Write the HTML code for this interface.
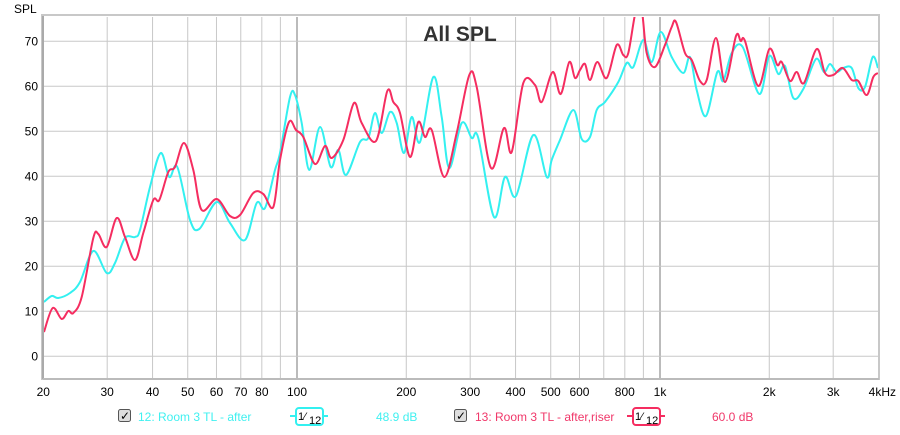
<!DOCTYPE html>
<html><head><meta charset="utf-8"><style>
body{margin:0;background:#fff;width:900px;height:430px;overflow:hidden;font-family:"Liberation Sans",sans-serif;}
svg text{font-family:"Liberation Sans",sans-serif;}
</style></head><body>
<svg id="s" width="900" height="430" xmlns="http://www.w3.org/2000/svg">
<defs><clipPath id="c"><rect x="44" y="17" width="834" height="361"/></clipPath></defs>
<rect x="44" y="17" width="834" height="361" fill="#fff"/>
<g id="grid"></g>
<rect x="42" y="15" width="837" height="364" fill="none" stroke="#c8c8c8" stroke-width="2"/>
<line x1="43" y1="16" x2="43" y2="379" stroke="#aaa" stroke-width="2"/>
<line x1="43" y1="379" x2="879" y2="379" stroke="#bbb" stroke-width="2"/>
<g clip-path="url(#c)">
<path id="cy" fill="none" stroke="#33f0f0" stroke-width="2"/>
<path id="rd" fill="none" stroke="#f52d60" stroke-width="2"/>
</g>
<text x="14" y="13" font-size="12">SPL</text>
<text x="460" y="41" font-size="21" font-weight="bold" text-anchor="middle" fill="#333">All SPL</text>
<g id="lab" font-size="12" fill="#000"></g>
<!-- legend -->
<rect x="118.5" y="409.5" width="12" height="12" fill="#ddd" stroke="#555" rx="2"/>
<text x="120" y="420" font-size="12">✓</text>
<text x="138" y="421" font-size="12" fill="#40f0f0">12: Room 3 TL - after</text>
<line x1="290" y1="416" x2="328" y2="416" stroke="#33f0f0" stroke-width="2"/>
<rect x="296" y="408" width="27" height="17" rx="3" fill="#fff" stroke="#33f0f0" stroke-width="2"/>
<text x="298" y="420" font-size="11">1⁄</text><text x="309" y="424" font-size="11">12</text>
<text x="376" y="421" font-size="12" fill="#40f0f0">48.9 dB</text>
<rect x="454.5" y="409.5" width="12" height="12" fill="#ddd" stroke="#555" rx="2"/>
<text x="456" y="420" font-size="12">✓</text>
<text x="475" y="421" font-size="12" fill="#f0386a">13: Room 3 TL - after,riser</text>
<line x1="627" y1="416" x2="665" y2="416" stroke="#f52d60" stroke-width="2"/>
<rect x="633" y="408" width="27" height="17" rx="3" fill="#fff" stroke="#f52d60" stroke-width="2"/>
<text x="635" y="420" font-size="11">1⁄</text><text x="646" y="424" font-size="11">12</text>
<text x="712" y="421" font-size="12" fill="#f0386a">60.0 dB</text>
</svg>
<script>
var NS="http://www.w3.org/2000/svg";
function X(f){return 44+363*Math.log10(f/20)/Math.log10(10)*1+ (363*Math.log10(20)-363*Math.log10(20));}
function fx(f){return 297+363*Math.log10(f/100);}
function Y(d){return 356.3-4.5*d;}
var g=document.getElementById('grid'),lab=document.getElementById('lab');
function el(t,a,p){var e=document.createElementNS(NS,t);for(var k in a)e.setAttribute(k,a[k]);p.appendChild(e);return e;}
var fs=[30,40,50,60,70,80,90,100,200,300,400,500,600,700,800,900,1000,2000,3000];
fs.forEach(function(f){var x=fx(f);el('line',{x1:x,y1:17,x2:x,y2:378,stroke:(f==100||f==1000)?'#777':'#c8c8c8','stroke-width':1},g);});
for(var d=0;d<=70;d+=10){var y=Y(d);el('line',{x1:44,y1:y,x2:878,y2:y,stroke:'#c8c8c8','stroke-width':1},g);
var t=el('text',{x:38,y:y+4,'text-anchor':'end'},lab);t.textContent=d;}
var xl=[[20,'20'],[30,'30'],[40,'40'],[50,'50'],[60,'60'],[70,'70'],[80,'80'],[100,'100'],[200,'200'],[300,'300'],[400,'400'],[500,'500'],[600,'600'],[800,'800'],[1000,'1k'],[2000,'2k'],[3000,'3k']];
xl.forEach(function(a){var t=el('text',{x:fx(a[0]),y:396,'text-anchor':'middle'},lab);t.textContent=a[1];});
var t=el('text',{x:896,y:396,'text-anchor':'end'},lab);t.textContent='4kHz';
function path(p){var s='M'+p[0][0]+','+p[0][1];for(var i=0;i<p.length-1;i++){var p0=p[i-1]||p[i],p1=p[i],p2=p[i+1],p3=p[i+2]||p2;
s+=' C'+(p1[0]+(p2[0]-p0[0])/6)+','+(p1[1]+(p2[1]-p0[1])/6)+' '+(p2[0]-(p3[0]-p1[0])/6)+','+(p2[1]-(p3[1]-p1[1])/6)+' '+p2[0]+','+p2[1];}return s;}
var red=[[44,332],[52.7,308],[61.7,319],[68.3,311],[73.3,313],[81.7,297],[93.3,238],[98.3,234],[106.7,247],[116.7,218],[125,237],[135,260],[143.3,233],[153.3,200],[159.3,200],[168.3,172],[175,167],[184,143],[193.3,170],[201.7,210],[216.7,199],[230,216],[240,215],[253.3,193],[263.3,194],[273.3,207],[280,160],[289,122],[296,130],[303.3,137],[315,164],[325,146],[331.7,158],[343.3,140],[354,103],[361.7,123],[376,141],[387.3,91],[393.3,102],[400,113],[410,157],[418.3,122],[425,137],[431.7,130],[444.3,177],[456.7,133],[469.3,75],[476.7,87],[491,168],[504,128],[511.7,152],[523.3,83],[535,85],[541.7,102],[552.7,72],[560.7,94],[569.3,62],[575,78],[580,70],[585,64],[590,80],[597.3,62],[606.7,78],[616.7,45],[623.3,55],[628.3,53],[636,10],[641.7,10],[646.7,53],[655,67],[665,45],[671.7,27],[676,22],[685,53],[691.7,60],[700,81],[706.7,80],[716,38],[725,82],[736,36],[740.7,41],[745,41],[758.3,86],[769.3,49],[777.3,65],[781.7,62],[790,81],[796.7,72],[804,83],[816.7,49],[825,73],[833.3,75],[842.7,68],[851.7,80],[858.3,81],[866.7,95],[873.3,77],[878,73]];
var cy=[[44,302],[51.7,296],[58.3,298],[70,293],[80,282],[93.3,251],[106.7,273],[115,263],[125,238],[135,237],[140,230],[150,187],[160.7,153],[169.3,177],[177.3,167],[190,220],[199.3,229],[216.7,202],[230,223],[245,240],[256.7,203],[265,208],[275,170],[280,153],[290,97],[295,95],[301.7,123],[309.3,170],[320,127],[330.7,167],[338.3,150],[346,175],[360,142],[368.3,138],[375,113],[381.7,133],[390,112],[396.7,123],[404,153],[411.7,117],[420,142],[433.3,77],[441.7,117],[449.3,168],[461.7,123],[471.7,138],[478.3,138],[494,217],[505,177],[516,196],[533.3,135],[546.7,177],[551.7,160],[560,140],[573.3,110],[581.7,139],[590,137],[596.7,110],[605,102],[618.3,82],[626.7,63],[633.3,67],[643.3,40],[651.7,62],[660.7,32],[671.7,57],[683.3,73],[690,57],[696.7,90],[706,116],[717.3,72],[723.3,81],[731.7,53],[742.7,47],[759.3,94],[769.3,56],[778.3,74],[785,66],[793.3,98],[803.3,89],[816,59],[824,72],[830,64],[836.7,72],[843.3,68],[851.7,68],[858.3,88],[865,87],[872.7,57],[878,68]];
document.getElementById('rd').setAttribute('d',path(red));
document.getElementById('cy').setAttribute('d',path(cy));
</script>
</body></html>
